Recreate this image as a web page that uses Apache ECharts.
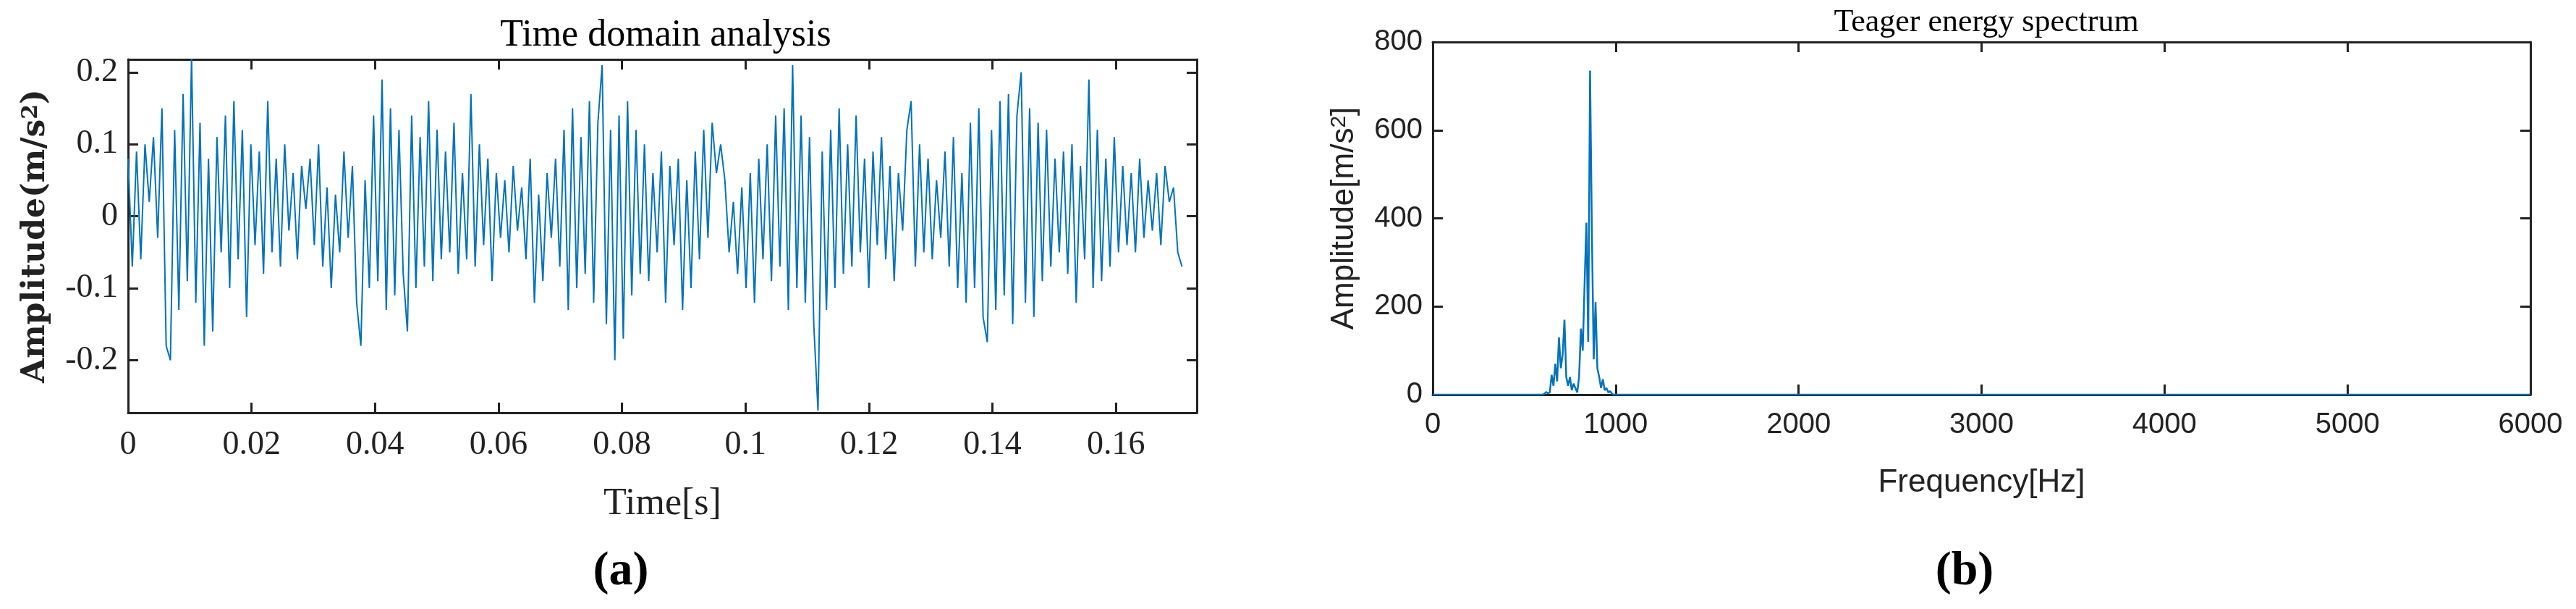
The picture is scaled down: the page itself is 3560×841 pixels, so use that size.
<!DOCTYPE html>
<html>
<head>
<meta charset="utf-8">
<script src="https://cdn.jsdelivr.net/npm/echarts@6/dist/echarts.min.js"></script>
<style>html,body{margin:0;padding:0;background:#fff}#main{width:3560px;height:841px}</style>
</head>
<body>
<div id="main"></div>
<script>
// time signal (a): samples, 0 .. 0.1707 s
var timeEnd = 0.1707;
var timeAmp = [
	0.08,-0.07,0.09,-0.06,0.1,0.02,0.11,-0.03,0.15,-0.18,
	-0.2,0.12,-0.13,0.17,-0.09,0.22,-0.12,0.13,-0.18,0.08,
	-0.16,0.11,-0.05,0.14,-0.1,0.16,-0.06,0.12,-0.14,0.1,
	-0.04,0.09,-0.08,0.16,-0.05,0.08,-0.07,0.1,-0.02,0.06,
	-0.06,0.07,0.01,0.08,-0.04,0.1,-0.07,0.04,-0.1,0.03,
	-0.05,0.09,-0.03,0.07,-0.12,-0.18,0.05,-0.1,0.14,-0.09,
	0.19,-0.13,0.15,-0.11,0.12,-0.08,-0.16,0.14,-0.1,0.11,
	-0.07,0.16,-0.09,0.12,-0.06,0.09,-0.05,0.13,-0.08,0.06,
	-0.06,0.17,-0.07,0.1,-0.04,0.08,-0.09,0.06,-0.03,0.05,
	-0.05,0.07,-0.02,0.04,-0.06,0.08,-0.12,0.03,-0.09,0.06,
	-0.03,0.08,-0.07,0.12,-0.13,0.15,-0.1,0.11,-0.08,0.16,
	-0.12,0.13,0.21,-0.15,0.12,-0.2,0.14,-0.17,0.16,-0.11,
	0.12,-0.08,0.1,-0.09,0.06,-0.05,0.09,-0.12,0.07,-0.04,
	0.08,-0.13,0.05,-0.1,0.09,-0.06,0.12,-0.03,0.13,0.06,
	0.1,0.05,-0.05,0.02,-0.08,0.04,-0.1,0.06,-0.12,0.08,
	-0.06,0.1,-0.09,0.14,-0.07,0.15,-0.13,0.21,-0.1,0.14,
	-0.12,0.11,-0.15,-0.27,0.09,-0.13,0.12,-0.1,0.15,-0.08,
	0.1,-0.07,0.14,-0.05,0.08,-0.1,0.09,-0.04,0.11,-0.06,
	0.07,-0.09,0.06,-0.02,0.12,0.16,-0.07,0.1,-0.05,0.08,
	-0.06,0.05,-0.03,0.09,-0.07,0.11,-0.1,0.06,-0.12,0.13,
	-0.1,0.15,-0.14,-0.175,0.12,-0.13,0.16,-0.11,0.17,-0.15,
	0.14,0.2,-0.12,0.15,-0.14,0.13,-0.09,0.12,-0.07,0.08,
	-0.05,0.09,-0.08,0.1,-0.12,0.07,-0.06,0.19,-0.1,0.12,
	-0.09,0.08,-0.07,0.11,-0.05,0.07,-0.04,0.06,-0.05,0.08,
	-0.03,0.05,-0.02,0.06,-0.04,0.07,0.02,0.04,-0.05,-0.07
];
var timeTicks = [0, 0.02, 0.04, 0.06, 0.08, 0.1, 0.12, 0.14, 0.16];
var ampTicks = [-0.2, -0.1, 0, 0.1, 0.2];

// teager energy spectrum (b)
var specFreq = [0,600,610,620,630,640,650,660,670,680,690,700,710,720,730,740,750,760,770,780,790,800,810,820,830,840,850,860,870,880,890,900,910,920,930,940,950,960,970,980,990,1000,6000];
var specAmp  = [0,0,2,6,3,5,45,20,70,30,130,60,90,170,40,20,40,10,25,15,5,40,150,100,250,390,120,735,370,80,210,60,40,15,35,10,15,5,8,2,0,0,0];

var timeData = timeAmp.map(function(v, i){ return [i * timeEnd / (timeAmp.length - 1), v]; });
var specData = specFreq.map(function(f, i){ return [f, specAmp[i]]; });

var blue = '#0072BD';
var serif = 'Liberation Serif';
var sans = 'Liberation Sans';
var ink = '#222';

function frameAxis(pos, gi, min, max, ticks){
	return {
		type: 'value', position: pos, gridIndex: gi, min: min, max: max,
		axisLine: {show: true, onZero: false, lineStyle: {color: ink, width: 3}},
		axisTick: {show: true, inside: true, length: 14, customValues: ticks, lineStyle: {color: ink, width: 3}},
		axisLabel: {show: false}, splitLine: {show: false}
	};
}

var chart = echarts.init(document.getElementById('main'));
chart.setOption({
	animation: false,
	title: [
		{text: 'Time domain analysis', left: 915, top: 18, textAlign: 'center',
			textStyle: {fontFamily: serif, fontSize: 52, fontWeight: 'normal', color: '#000'}},
		{text: 'Teager energy spectrum', left: 2740, top: 4, textAlign: 'center',
			textStyle: {fontFamily: serif, fontSize: 44, fontWeight: 'normal', color: '#000'}},
		{text: '(a)', left: 853, top: 752, textAlign: 'center',
			textStyle: {fontFamily: serif, fontSize: 66, fontWeight: 'bold', color: '#000'}},
		{text: '(b)', left: 2710, top: 752, textAlign: 'center',
			textStyle: {fontFamily: serif, fontSize: 66, fontWeight: 'bold', color: '#000'}}
	],
	grid: [
		{left: 177, top: 82, width: 1477, height: 488},
		{left: 1980, top: 58, width: 1517, height: 487}
	],
	xAxis: [
		{
			type: 'value', gridIndex: 0, min: 0, max: 0.1731,
			name: 'Time[s]', nameLocation: 'middle', nameGap: 100,
			nameTextStyle: {fontFamily: serif, fontSize: 52, color: ink},
			axisLine: {onZero: false, lineStyle: {color: ink, width: 3}},
			axisTick: {inside: true, length: 14, customValues: timeTicks, lineStyle: {color: ink, width: 3}},
			axisLabel: {fontFamily: serif, fontSize: 46, color: ink, margin: 22, customValues: timeTicks,
				formatter: function(v){ return String(+v.toFixed(2)); }},
			splitLine: {show: false}
		},
		frameAxis('top', 0, 0, 0.1731, timeTicks),
		{
			type: 'value', gridIndex: 1, min: 0, max: 6000, interval: 1000,
			name: 'Frequency[Hz]', nameLocation: 'middle', nameGap: 100,
			nameTextStyle: {fontFamily: sans, fontSize: 44, color: ink},
			axisLine: {onZero: false, lineStyle: {color: ink, width: 3}},
			axisTick: {inside: true, length: 14, lineStyle: {color: ink, width: 3}},
			axisLabel: {fontFamily: sans, fontSize: 40, color: ink, margin: 22,
				formatter: function(v){ return String(v); }},
			splitLine: {show: false}
		},
		frameAxis('top', 1, 0, 6000, [1000, 2000, 3000, 4000, 5000])
	],
	yAxis: [
		{
			type: 'value', gridIndex: 0, min: -0.273, max: 0.218,
			name: 'Amplitude(m/s{sup|2})', nameLocation: 'middle', nameGap: 105,
			nameTextStyle: {fontFamily: 'DejaVu Serif', fontSize: 44, fontWeight: 'bold', color: ink,
				rich: {sup: {fontFamily: 'DejaVu Serif', fontSize: 30, fontWeight: 'bold', verticalAlign: 'top', color: ink}}},
			axisLine: {onZero: false, lineStyle: {color: ink, width: 3}},
			axisTick: {inside: true, length: 14, customValues: ampTicks, lineStyle: {color: ink, width: 3}},
			axisLabel: {fontFamily: serif, fontSize: 46, color: ink, margin: 14, customValues: ampTicks,
				formatter: function(v){ return Math.abs(v) < 1e-9 ? '0' : String(+v.toFixed(1)); }},
			splitLine: {show: false}
		},
		frameAxis('right', 0, -0.273, 0.218, ampTicks),
		{
			type: 'value', gridIndex: 1, min: 0, max: 800, interval: 200,
			name: 'Amplitude[m/s{sup|2}]', nameLocation: 'middle', nameGap: 100,
			nameTextStyle: {fontFamily: sans, fontSize: 44, color: ink,
				rich: {sup: {fontFamily: sans, fontSize: 30, verticalAlign: 'top', color: ink}}},
			axisLine: {onZero: false, lineStyle: {color: ink, width: 3}},
			axisTick: {inside: true, length: 14, lineStyle: {color: ink, width: 3}},
			axisLabel: {fontFamily: sans, fontSize: 40, color: ink, margin: 14},
			splitLine: {show: false}
		},
		frameAxis('right', 1, 0, 800, [200, 400, 600])
	],
	series: [
		{type: 'line', xAxisIndex: 0, yAxisIndex: 0, data: timeData, showSymbol: false,
			lineStyle: {color: blue, width: 2}},
		{type: 'line', xAxisIndex: 2, yAxisIndex: 2, data: specData, showSymbol: false,
			lineStyle: {color: blue, width: 2.5}}
	]
});
</script>
</body>
</html>
